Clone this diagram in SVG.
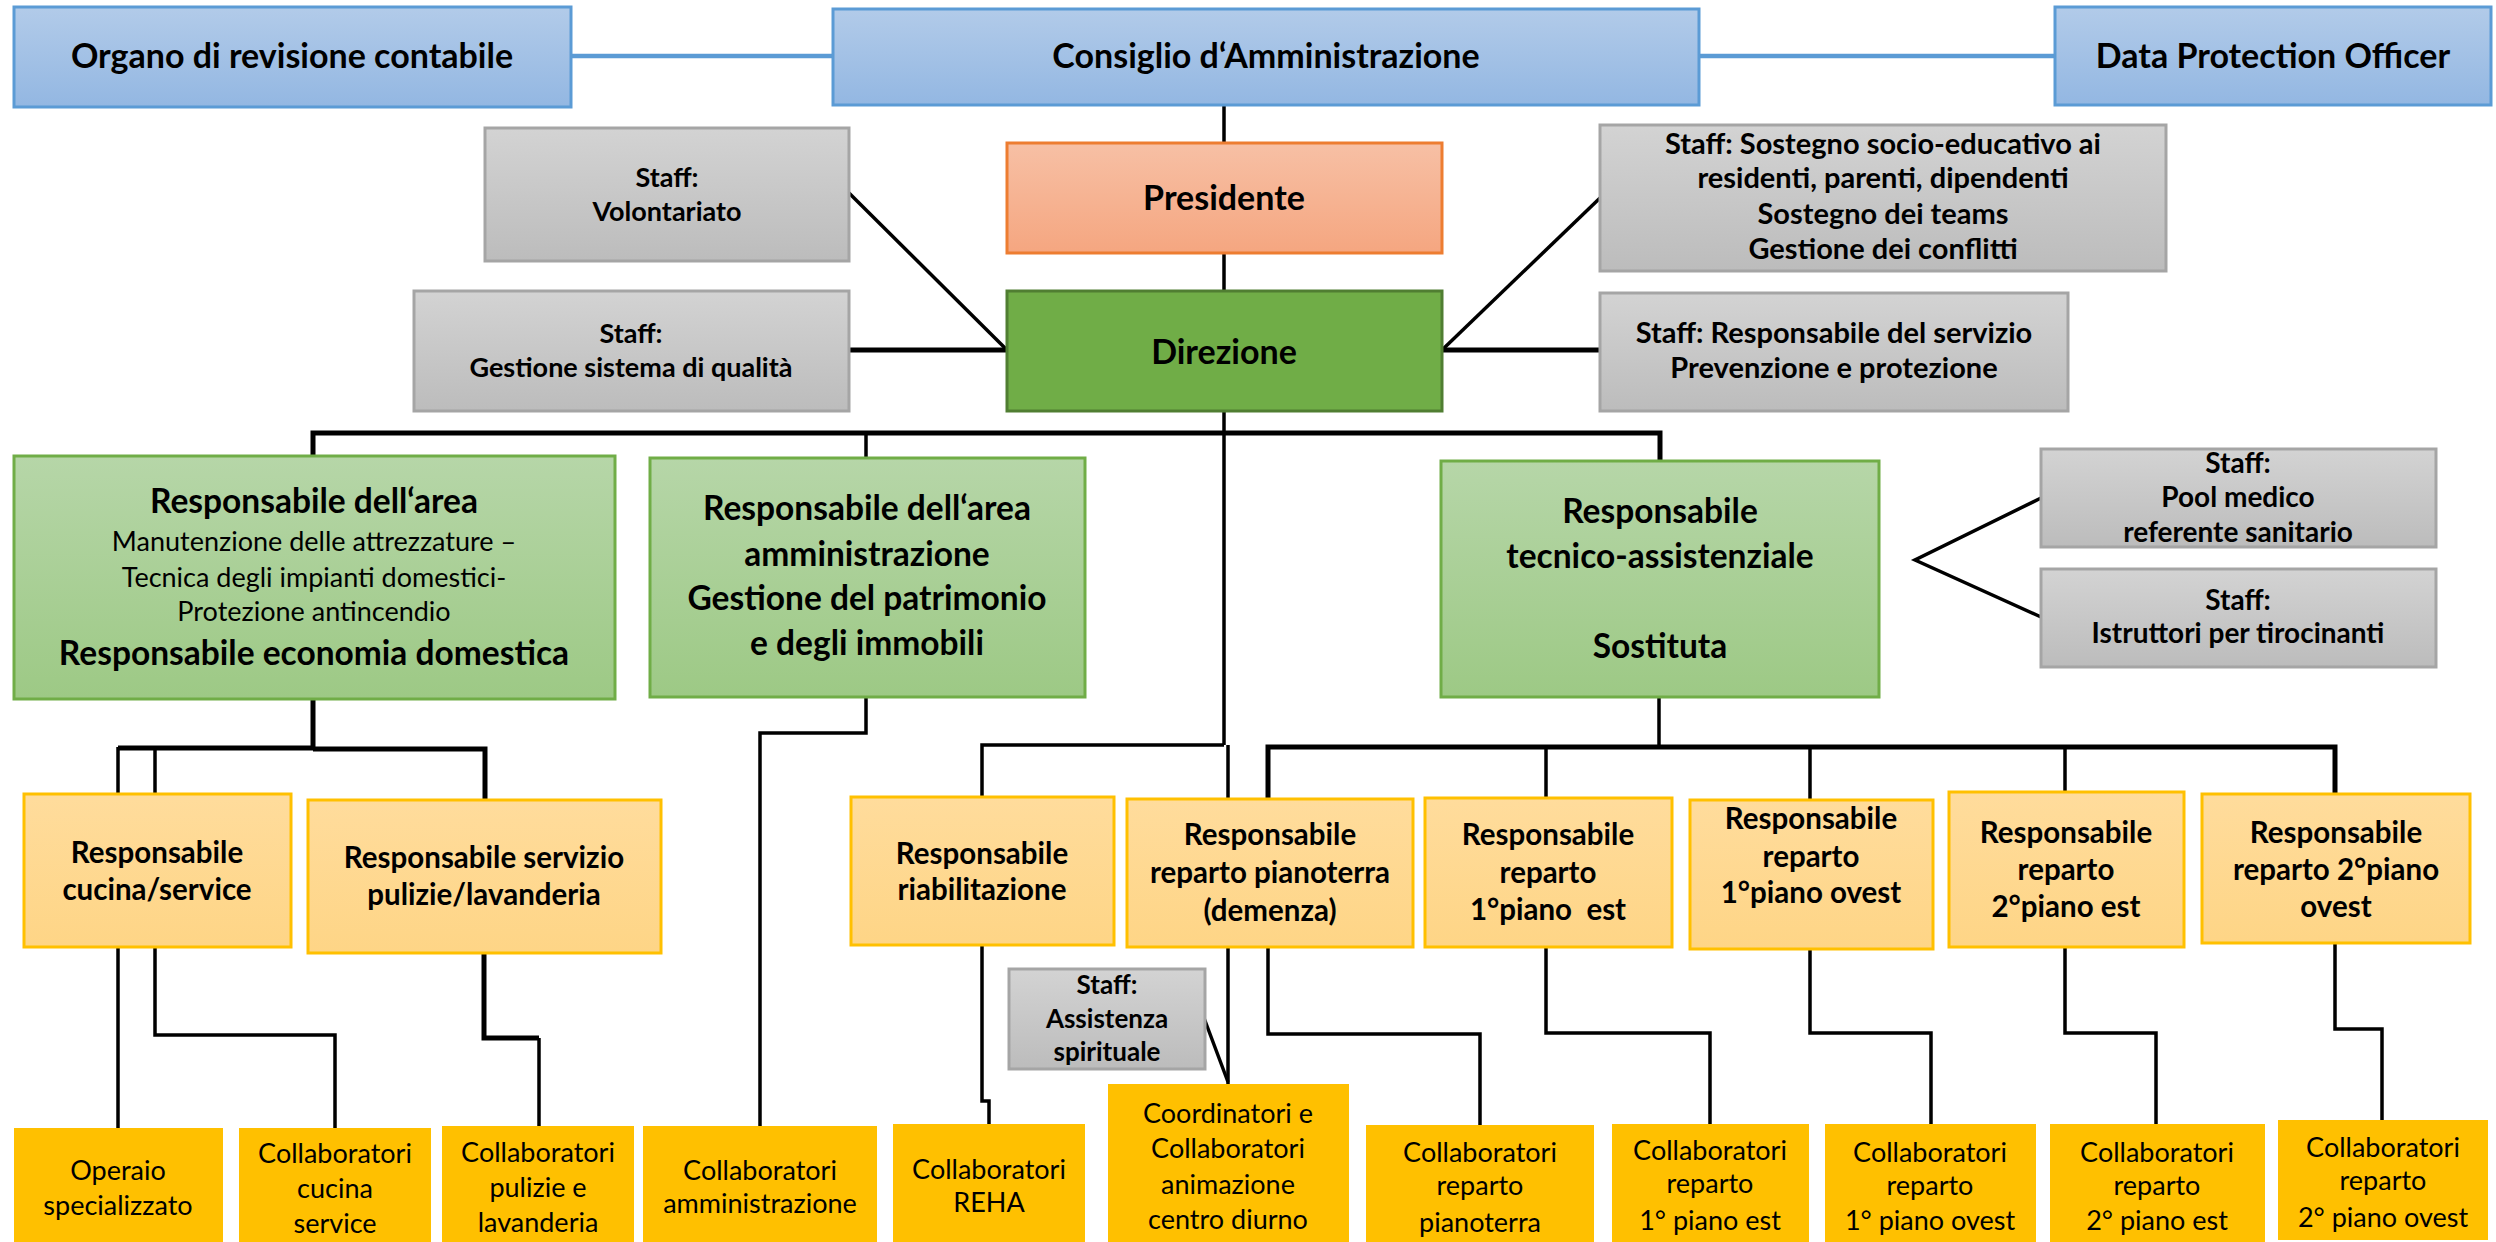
<svg xmlns="http://www.w3.org/2000/svg" width="2496" height="1242" viewBox="0 0 2496 1242">
<defs>
<linearGradient id="gBlue" x1="0" y1="0" x2="0" y2="1"><stop offset="0" stop-color="#b2cbe9"/><stop offset="1" stop-color="#93b7e2"/></linearGradient>
<linearGradient id="gOrange" x1="0" y1="0" x2="0" y2="1"><stop offset="0" stop-color="#f7c0a5"/><stop offset="1" stop-color="#f5a680"/></linearGradient>
<linearGradient id="gLGreen" x1="0" y1="0" x2="0" y2="1"><stop offset="0" stop-color="#b6d6a8"/><stop offset="1" stop-color="#9dc985"/></linearGradient>
<linearGradient id="gGray" x1="0" y1="0" x2="0" y2="1"><stop offset="0" stop-color="#d3d3d3"/><stop offset="1" stop-color="#bcbcbc"/></linearGradient>
<linearGradient id="gYellow" x1="0" y1="0" x2="0" y2="1"><stop offset="0" stop-color="#ffdc9c"/><stop offset="1" stop-color="#fed586"/></linearGradient>
</defs>
<style>
text{font-family:Lato,"Liberation Sans",sans-serif;text-anchor:middle;fill:#000}
.b{font-weight:bold}
.r{font-weight:normal}
.blue{fill:url(#gBlue);stroke:#5b9bd5;stroke-width:3}
.orange{fill:url(#gOrange);stroke:#ed7d31;stroke-width:3}
.green{fill:#70ad47;stroke:#507e32;stroke-width:3}
.lgreen{fill:url(#gLGreen);stroke:#70ad47;stroke-width:3}
.gray{fill:url(#gGray);stroke:#a5a5a5;stroke-width:3}
.yel{fill:url(#gYellow);stroke:#ffc000;stroke-width:3}
.col{fill:#ffc000}
.f34{font-size:34px}
.f33{font-size:33.5px}
.f29s{font-size:29px}
.f27{font-size:27px}
.f28{font-size:28px}
.f26{font-size:26px}
.f29{font-size:29.5px}
.c{fill:none;stroke:#000;stroke-width:3.5}
.ct{fill:none;stroke:#000;stroke-width:5}
.cb{fill:none;stroke:#5b9bd5;stroke-width:4.5}
</style>

<g id="connectors">
<path class="cb" d="M571,56 H833"/>
<path class="cb" d="M1699,56 H2055"/>
<path class="c" d="M1224,105 V143"/>
<path class="c" d="M1224,253 V291"/>
<path class="c" d="M849,193 L1007,350"/>
<path class="ct" d="M849,350 H1007"/>
<path class="c" d="M1442,350 L1600,198"/>
<path class="ct" d="M1442,350 H1600"/>
<path class="c" d="M1224,411 V745"/>
<path class="ct" d="M313,456 V433 H1660 V461"/>
<path class="c" d="M866,434 V458"/>
<path class="ct" d="M313,699 V748 H118"/>
<path class="c" d="M118,794 V747"/>
<path class="c" d="M155,794 V747"/>
<path class="ct" d="M313,749 H485 V800"/>
<path class="c" d="M118,947 V1128"/>
<path class="c" d="M155,947 V1035 H335 V1128"/>
<path class="ct" d="M484,953 V1038 H539"/>
<path class="c" d="M539,1038 V1126"/>
<path class="c" d="M866,697 V733 H760 V1126"/>
<path class="c" d="M1224,745 H982 V797"/>
<path class="c" d="M1228,745 V799"/>
<path class="c" d="M982,945 V1101 H989 V1124"/>
<path class="c" d="M1659,697 V747"/>
<path class="ct" d="M1268,799 V747 H2335 V794"/>
<path class="c" d="M1546,747 V798"/>
<path class="c" d="M1810,747 V800"/>
<path class="c" d="M2065,747 V792"/>
<path class="c" d="M2041,498 L1915,560 L2041,617"/>
<path class="c" d="M1228,947 V1084"/>
<path class="c" d="M1204,1018 L1228,1082"/>
<path class="c" d="M1268,947 V1034 H1480 V1125"/>
<path class="c" d="M1546,947 V1033 H1710 V1124"/>
<path class="c" d="M1810,949 V1033 H1931 V1124"/>
<path class="c" d="M2065,947 V1033 H2156 V1124"/>
<path class="c" d="M2335,943 V1029 H2382 V1120"/>
</g>

<g id="organo"><rect class="blue" x="14" y="7" width="557" height="100"/><text class="b f34" x="292" y="68">Organo di revisione contabile</text></g>
<g id="consiglio"><rect class="blue" x="833" y="9" width="866" height="96"/><text class="b f34" x="1266" y="68">Consiglio d‘Amministrazione</text></g>
<g id="dpo"><rect class="blue" x="2055" y="7" width="436" height="98"/><text class="b f34" x="2273" y="68">Data Protection Officer</text></g>
<g id="presidente"><rect class="orange" x="1007" y="143" width="435" height="110"/><text class="b f34" x="1224" y="210">Presidente</text></g>
<g id="direzione"><rect class="green" x="1007" y="291" width="435" height="120"/><text class="b f34" x="1224" y="364">Direzione</text></g>

<g id="staff-volontariato"><rect class="gray" x="485" y="128" width="364" height="133"/><text class="b f27" x="667" y="187">Staff:</text><text class="b f27" x="667" y="221">Volontariato</text></g>
<g id="staff-qualita"><rect class="gray" x="414" y="291" width="435" height="120"/><text class="b f27" x="631" y="343">Staff:</text><text class="b f27" x="631" y="377">Gestione sistema di qualità</text></g>
<g id="staff-socio"><rect class="gray" x="1600" y="125" width="566" height="146"/>
<text class="b f29s" x="1883" y="154">Staff: Sostegno socio-educativo ai</text>
<text class="b f29s" x="1883" y="188">residenti, parenti, dipendenti</text>
<text class="b f29s" x="1883" y="224">Sostegno dei teams</text>
<text class="b f29s" x="1883" y="259">Gestione dei conflitti</text></g>
<g id="staff-rspp"><rect class="gray" x="1600" y="293" width="468" height="118"/><text class="b f29s" x="1834" y="343">Staff: Responsabile del servizio</text><text class="b f29s" x="1834" y="378">Prevenzione e protezione</text></g>

<g id="area-tecnica"><rect class="lgreen" x="14" y="456" width="601" height="243"/>
<text class="b f33" x="314" y="513">Responsabile dell‘area</text>
<text class="r f27" x="314" y="551">Manutenzione delle attrezzature –</text>
<text class="r f27" x="314" y="587">Tecnica degli impianti domestici-</text>
<text class="r f27" x="314" y="621">Protezione antincendio</text>
<text class="b f33" x="314" y="665">Responsabile economia domestica</text></g>
<g id="area-amministrazione"><rect class="lgreen" x="650" y="458" width="435" height="239"/>
<text class="b f33" x="867" y="520">Responsabile dell‘area</text>
<text class="b f33" x="867" y="566">amministrazione</text>
<text class="b f33" x="867" y="610">Gestione del patrimonio</text>
<text class="b f33" x="867" y="655">e degli immobili</text></g>
<g id="tecnico-assistenziale"><rect class="lgreen" x="1441" y="461" width="438" height="236"/>
<text class="b f33" x="1660" y="523">Responsabile</text>
<text class="b f33" x="1660" y="568">tecnico-assistenziale</text>
<text class="b f33" x="1660" y="658">Sostituta</text></g>
<g id="staff-pool"><rect class="gray" x="2041" y="449" width="395" height="98"/>
<text class="b f28" x="2238" y="473">Staff:</text><text class="b f28" x="2238" y="507">Pool medico</text><text class="b f28" x="2238" y="542">referente sanitario</text></g>
<g id="staff-istruttori"><rect class="gray" x="2041" y="569" width="395" height="98"/>
<text class="b f28" x="2238" y="610">Staff:</text><text class="b f28" x="2238" y="643">Istruttori per tirocinanti</text></g>

<g id="resp-cucina"><rect class="yel" x="24" y="794" width="267" height="153"/><text class="b f29" x="157" y="863">Responsabile</text><text class="b f29" x="157" y="900">cucina/service</text></g>
<g id="resp-pulizie"><rect class="yel" x="308" y="800" width="353" height="153"/><text class="b f29" x="484" y="868">Responsabile servizio</text><text class="b f29" x="484" y="905">pulizie/lavanderia</text></g>
<g id="resp-riabilitazione"><rect class="yel" x="851" y="797" width="263" height="148"/><text class="b f29" x="982" y="864">Responsabile</text><text class="b f29" x="982" y="900">riabilitazione</text></g>
<g id="resp-pianoterra"><rect class="yel" x="1127" y="799" width="286" height="148"/><text class="b f29" x="1270" y="845">Responsabile</text><text class="b f29" x="1270" y="883">reparto pianoterra</text><text class="b f29" x="1270" y="921">(demenza)</text></g>
<g id="resp-1est"><rect class="yel" x="1425" y="798" width="247" height="149"/><text class="b f29" x="1548" y="845">Responsabile</text><text class="b f29" x="1548" y="883">reparto</text><text class="b f29" x="1548" y="920" xml:space="preserve">1°piano  est</text></g>
<g id="resp-1ovest"><rect class="yel" x="1690" y="800" width="243" height="149"/><text class="b f29" x="1811" y="829">Responsabile</text><text class="b f29" x="1811" y="867">reparto</text><text class="b f29" x="1811" y="903">1°piano ovest</text></g>
<g id="resp-2est"><rect class="yel" x="1949" y="792" width="235" height="155"/><text class="b f29" x="2066" y="843">Responsabile</text><text class="b f29" x="2066" y="880">reparto</text><text class="b f29" x="2066" y="917">2°piano est</text></g>
<g id="resp-2ovest"><rect class="yel" x="2202" y="794" width="268" height="149"/><text class="b f29" x="2336" y="843">Responsabile</text><text class="b f29" x="2336" y="880">reparto 2°piano</text><text class="b f29" x="2336" y="917">ovest</text></g>
<g id="staff-assistenza"><rect class="gray" x="1009" y="969" width="196" height="100"/><text class="b f26" x="1107" y="994">Staff:</text><text class="b f26" x="1107" y="1028">Assistenza</text><text class="b f26" x="1107" y="1061">spirituale</text></g>

<g id="col-operaio"><rect class="col" x="14" y="1128" width="209" height="114"/><text class="r f27" x="118" y="1180">Operaio</text><text class="r f27" x="118" y="1215">specializzato</text></g>
<g id="col-cucina"><rect class="col" x="239" y="1128" width="192" height="114"/><text class="r f27" x="335" y="1163">Collaboratori</text><text class="r f27" x="335" y="1198">cucina</text><text class="r f27" x="335" y="1233">service</text></g>
<g id="col-pulizie"><rect class="col" x="442" y="1126" width="192" height="116"/><text class="r f27" x="538" y="1162">Collaboratori</text><text class="r f27" x="538" y="1197">pulizie e</text><text class="r f27" x="538" y="1232">lavanderia</text></g>
<g id="col-amministrazione"><rect class="col" x="643" y="1126" width="234" height="116"/><text class="r f27" x="760" y="1180">Collaboratori</text><text class="r f27" x="760" y="1213">amministrazione</text></g>
<g id="col-reha"><rect class="col" x="893" y="1124" width="192" height="118"/><text class="r f27" x="989" y="1179">Collaboratori</text><text class="r f27" x="989" y="1212">REHA</text></g>
<g id="col-animazione"><rect class="col" x="1108" y="1084" width="241" height="158"/><text class="r f27" x="1228" y="1123">Coordinatori e</text><text class="r f27" x="1228" y="1158">Collaboratori</text><text class="r f27" x="1228" y="1194">animazione</text><text class="r f27" x="1228" y="1229">centro diurno</text></g>
<g id="col-pianoterra"><rect class="col" x="1366" y="1125" width="228" height="117"/><text class="r f27" x="1480" y="1162">Collaboratori</text><text class="r f27" x="1480" y="1195">reparto</text><text class="r f27" x="1480" y="1232">pianoterra</text></g>
<g id="col-1est"><rect class="col" x="1612" y="1124" width="197" height="118"/><text class="r f27" x="1710" y="1160">Collaboratori</text><text class="r f27" x="1710" y="1193">reparto</text><text class="r f27" x="1710" y="1230">1° piano est</text></g>
<g id="col-1ovest"><rect class="col" x="1825" y="1124" width="211" height="118"/><text class="r f27" x="1930" y="1162">Collaboratori</text><text class="r f27" x="1930" y="1195">reparto</text><text class="r f27" x="1930" y="1230">1° piano ovest</text></g>
<g id="col-2est"><rect class="col" x="2050" y="1124" width="215" height="118"/><text class="r f27" x="2157" y="1162">Collaboratori</text><text class="r f27" x="2157" y="1195">reparto</text><text class="r f27" x="2157" y="1230">2° piano est</text></g>
<g id="col-2ovest"><rect class="col" x="2278" y="1120" width="210" height="120"/><text class="r f27" x="2383" y="1157">Collaboratori</text><text class="r f27" x="2383" y="1190">reparto</text><text class="r f27" x="2383" y="1227">2° piano ovest</text></g>
</svg>
